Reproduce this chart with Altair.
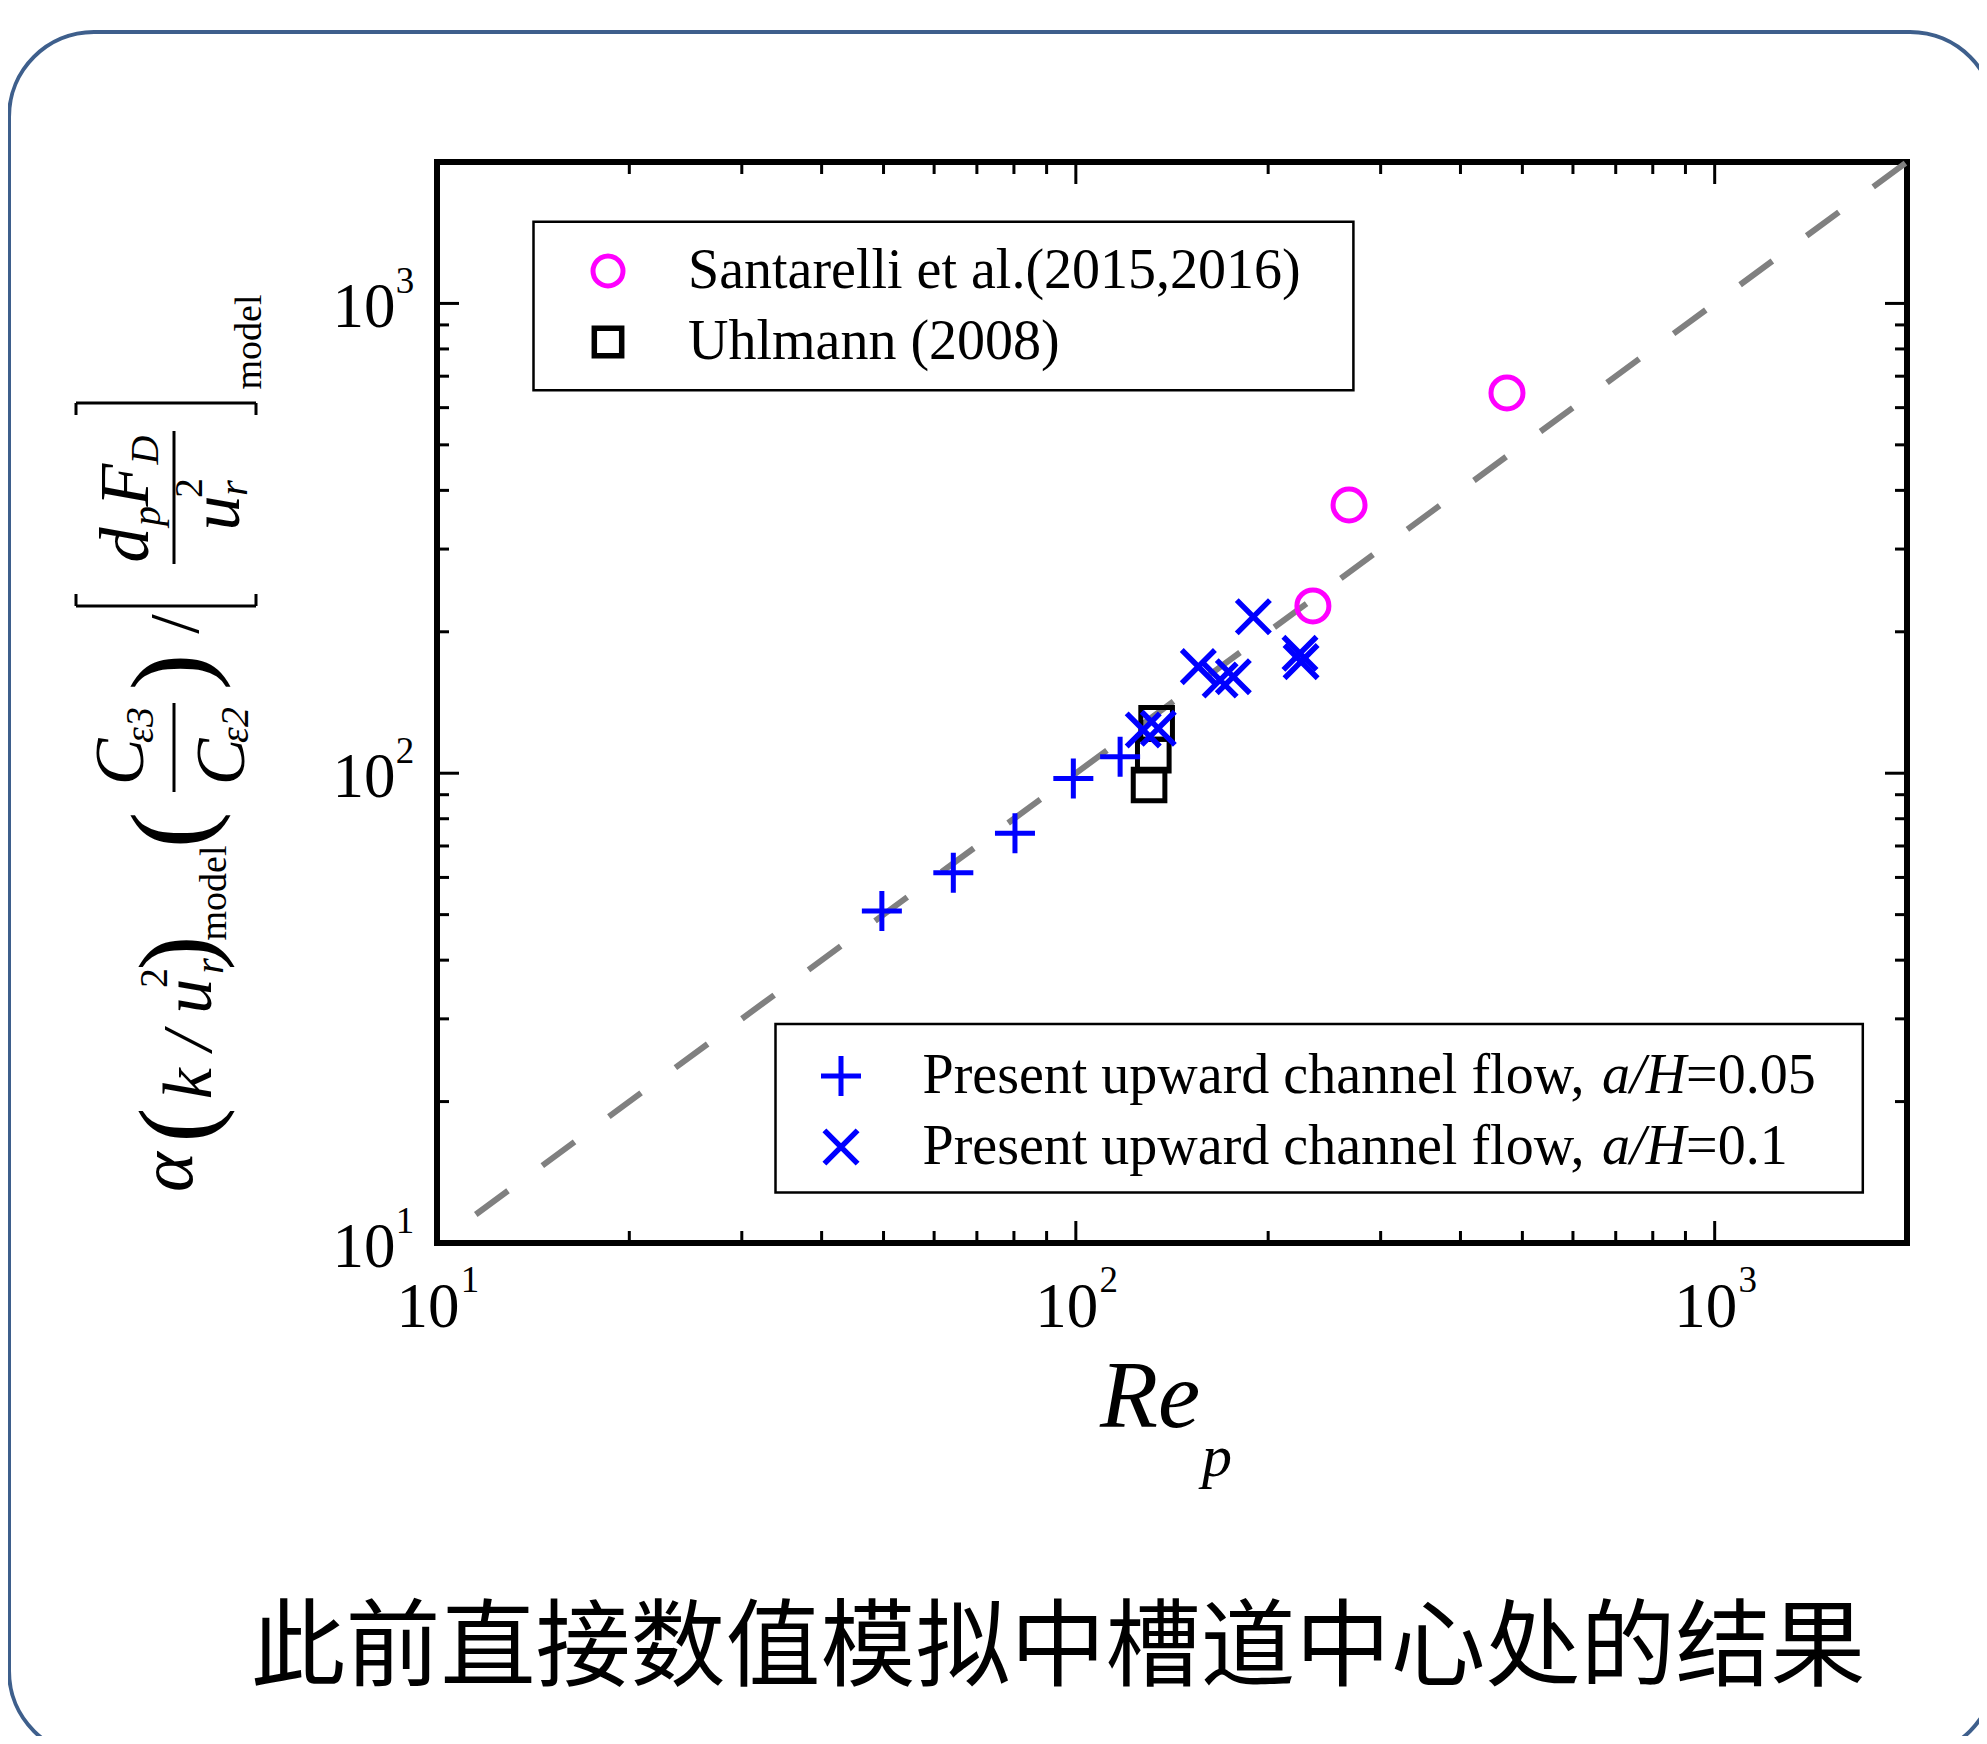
import altair as alt
import pandas as pd

# ---------------- data ----------------
plus_x = [49.7, 64.3, 80.3, 99.1, 117.3]
plus_y = [50.9, 61.4, 74.5, 97.5, 108.4]
cross_x = [127.5, 134.6, 155.5, 168.2, 176.4, 189.6, 224.3, 225.2]
cross_y = [123.6, 124.6, 168.6, 157.9, 160.5, 215.3, 180.0, 172.8]
square_x = [130.2, 132.2, 133.8]
square_y = [94.4, 109.3, 127.7]
circle_x = [235.0, 267.7, 473.0]
circle_y = [227.0, 372.3, 644.8]
line_x = [11.5, 2000]
line_y = [11.5, 2000]

major_ticks = [100, 1000]
minor_ticks = [20, 30, 40, 50, 60, 70, 80, 90, 200, 300, 400, 500, 600, 700, 800, 900]
label_values = [10, 100, 1000]
label_base = "10"
label_sups = ["1", "2", "3"]

legend1 = ["Santarelli et al.(2015,2016)", "Uhlmann (2008)"]
legend2_main = "Present upward channel flow, "
legend2_ital = "a/H"
legend2_vals = ["=0.05", "=0.1"]
caption = "此前直接数值模拟中槽道中心处的结果"

W, H = 1470, 1081
SERIF = "Liberation Serif"
PLUS = "M-1,0L1,0M0,-1L0,1"
XSHAPE = "M-1,-1L1,1M-1,1L1,-1"

xs = alt.Scale(type="log", domain=[10, 2000], nice=False)
ys = alt.Scale(type="log", domain=[10, 2000], nice=False)

dummy = pd.DataFrame({"_": [0]})
base = alt.Chart(dummy)


def txt(s, x, y, size, angle=0, style="normal", font=SERIF, align="center", baseline="middle"):
    return base.mark_text(text=s, fontSize=size, font=font, fontStyle=style, angle=angle,
                          align=align, baseline=baseline, color="black").encode(
        x=alt.value(x), y=alt.value(y))


def hrule(x1, x2, y, w=3):
    return base.mark_rule(color="black", strokeWidth=w).encode(
        x=alt.value(x1), x2=alt.value(x2), y=alt.value(y))


def vrule(x, y1, y2, w=3):
    return base.mark_rule(color="black", strokeWidth=w).encode(
        x=alt.value(x), y=alt.value(y1), y2=alt.value(y2))


# outer rounded frame
frame = base.mark_rect(cornerRadius=85, fillOpacity=0, stroke="#3E5F8C", strokeWidth=4).encode(
    x=alt.value(-428), x2=alt.value(1558), y=alt.value(-130), y2=alt.value(1594))

# inward ticks on all four sides
maj = pd.DataFrame({"t": major_ticks})
mnr = pd.DataFrame({"t": minor_ticks})
tick_layers = []
for df, ln in [(maj, 22), (mnr, 12)]:
    c = alt.Chart(df)
    tick_layers += [
        c.mark_rule(color="black", strokeWidth=3).encode(
            x=alt.X("t:Q", scale=xs, axis=None), y=alt.value(H), y2=alt.value(H - ln)),
        c.mark_rule(color="black", strokeWidth=3).encode(
            x=alt.X("t:Q", scale=xs, axis=None), y=alt.value(0), y2=alt.value(ln)),
        c.mark_rule(color="black", strokeWidth=3).encode(
            y=alt.Y("t:Q", scale=ys, axis=None), x=alt.value(0), x2=alt.value(ln)),
        c.mark_rule(color="black", strokeWidth=3).encode(
            y=alt.Y("t:Q", scale=ys, axis=None), x=alt.value(W), x2=alt.value(W - ln)),
    ]

# tick labels 10^n
lab_df = pd.DataFrame({"v": label_values, "sup": label_sups})
lc = alt.Chart(lab_df)
label_layers = [
    lc.mark_text(text=label_base, fontSize=63, font=SERIF, color="black", dx=-9).encode(
        x=alt.X("v:Q", scale=xs, axis=None), y=alt.value(1146)),
    lc.mark_text(fontSize=37, font=SERIF, color="black", dx=33).encode(
        x=alt.X("v:Q", scale=xs, axis=None), y=alt.value(1119), text="sup:N"),
    lc.mark_text(text=label_base, fontSize=63, font=SERIF, color="black", dy=5).encode(
        y=alt.Y("v:Q", scale=ys, axis=None), x=alt.value(-73)),
    lc.mark_text(fontSize=37, font=SERIF, color="black", dy=-21).encode(
        y=alt.Y("v:Q", scale=ys, axis=None), x=alt.value(-32), text="sup:N"),
]

diag = alt.Chart(pd.DataFrame({"x": line_x, "y": line_y})).mark_line(
    color="#808080", strokeWidth=6, strokeDash=[40, 42.6]).encode(
    x=alt.X("x:Q", scale=xs, axis=None), y=alt.Y("y:Q", scale=ys, axis=None))


def pts(xv, yv, shape, size, color, sw):
    return alt.Chart(pd.DataFrame({"x": xv, "y": yv})).mark_point(
        shape=shape, size=size, filled=False, color=color, strokeWidth=sw, opacity=1).encode(
        x=alt.X("x:Q", scale=xs, axis=None), y=alt.Y("y:Q", scale=ys, axis=None))


p_plus = pts(plus_x, plus_y, PLUS, 1600, "#0000FF", 5)
p_cross = pts(cross_x, cross_y, XSHAPE, 1100, "#0000FF", 5.5)
p_sq = pts(square_x, square_y, "square", 1000, "black", 5)
p_circ = pts(circle_x, circle_y, "circle", 1024, "#FF00FF", 5)

# legends
box1 = base.mark_rect(fill="white", stroke="black", strokeWidth=2.5).encode(
    x=alt.value(96.5), x2=alt.value(916.4), y=alt.value(59.8), y2=alt.value(228.3))
box2 = base.mark_rect(fill="white", stroke="black", strokeWidth=2.5).encode(
    x=alt.value(338.5), x2=alt.value(1425.8), y=alt.value(862), y2=alt.value(1030.4))


def sym(shape, size, color, sw, x, y):
    return base.mark_point(shape=shape, size=size, filled=False, color=color,
                           strokeWidth=sw, opacity=1).encode(x=alt.value(x), y=alt.value(y))


leg = [
    box1, box2,
    sym("circle", 900, "#FF00FF", 5, 171, 109),
    sym("square", 750, "black", 5.5, 171, 180),
    txt(legend1[0], 251, 109, 56, align="left"),
    txt(legend1[1], 251, 180, 56, align="left"),
    sym(PLUS, 1600, "#0000FF", 5, 404, 914),
    sym(XSHAPE, 1100, "#0000FF", 5.5, 404, 985),
]
x_ital = 485.5 + 12.136 * 56
x_val = x_ital + 1.5 * 56
for i, yy in enumerate([914, 985]):
    leg += [
        txt(legend2_main, 485.5, yy, 56, align="left"),
        txt(legend2_ital, x_ital, yy, 56, style="italic", align="left"),
        txt(legend2_vals[i], x_val, yy, 56, align="left"),
    ]

# x title Re_p
xt = [txt("Re", 713, 1236, 95, style="italic"), txt("p", 780, 1296, 60, style="italic")]

# y title pieces (rotated)
A = 270
yt = [
    txt("\u03b1", -268, 1010, 76, angle=A, style="italic"),
    txt("(", -257, 963, 105, angle=A),
    txt("k / u", -247, 877, 70, angle=A, style="italic"),
    txt("r", -226, 804, 40, angle=A, style="italic"),
    txt("2", -282, 816, 40, angle=A),
    txt(")", -257, 791, 105, angle=A),
    txt("model", -222, 731, 38, angle=A),
    txt("(", -263, 668, 110, angle=A),
    txt("C", -315, 600, 70, angle=A, style="italic"),
    txt("\u03b53", -296, 563, 40, angle=A, style="italic"),
    vrule(-263, 541, 630),
    txt("C", -214, 600, 70, angle=A, style="italic"),
    txt("\u03b52", -201, 563, 40, angle=A, style="italic"),
    txt(")", -263, 510, 110, angle=A),
    txt("/", -260, 462, 70, angle=A),
    hrule(-361, -181, 444), vrule(-361, 444, 432), vrule(-181, 444, 432),
    txt("d", -310, 383, 70, angle=A, style="italic"),
    txt("p", -289, 354, 40, angle=A, style="italic"),
    txt("F", -310, 323, 70, angle=A, style="italic"),
    txt("D", -291, 288, 40, angle=A, style="italic"),
    vrule(-263, 269, 402),
    txt("u", -219, 351, 70, angle=A, style="italic"),
    txt("r", -202, 326, 40, angle=A, style="italic"),
    txt("2", -247, 326, 40, angle=A),
    hrule(-361, -181, 241), vrule(-361, 241, 253), vrule(-181, 241, 253),
    txt("model", -187, 180, 38, angle=A),
]

cap = [txt(caption, 621, 1488, 95, font="Noto Sans CJK SC")]

chart = alt.layer(
    frame, diag, *tick_layers, p_sq, p_plus, p_cross, p_circ, *label_layers, *leg, *xt, *yt, *cap
).properties(
    width=W, height=H,
    background="white",
    autosize=alt.AutoSizeParams(type="none"),
    padding={"left": 429, "top": 154, "right": 72, "bottom": 493},
).configure_view(stroke="black", strokeWidth=6)

chart.save("out.html", embed_options={"renderer": "svg", "actions": False})
